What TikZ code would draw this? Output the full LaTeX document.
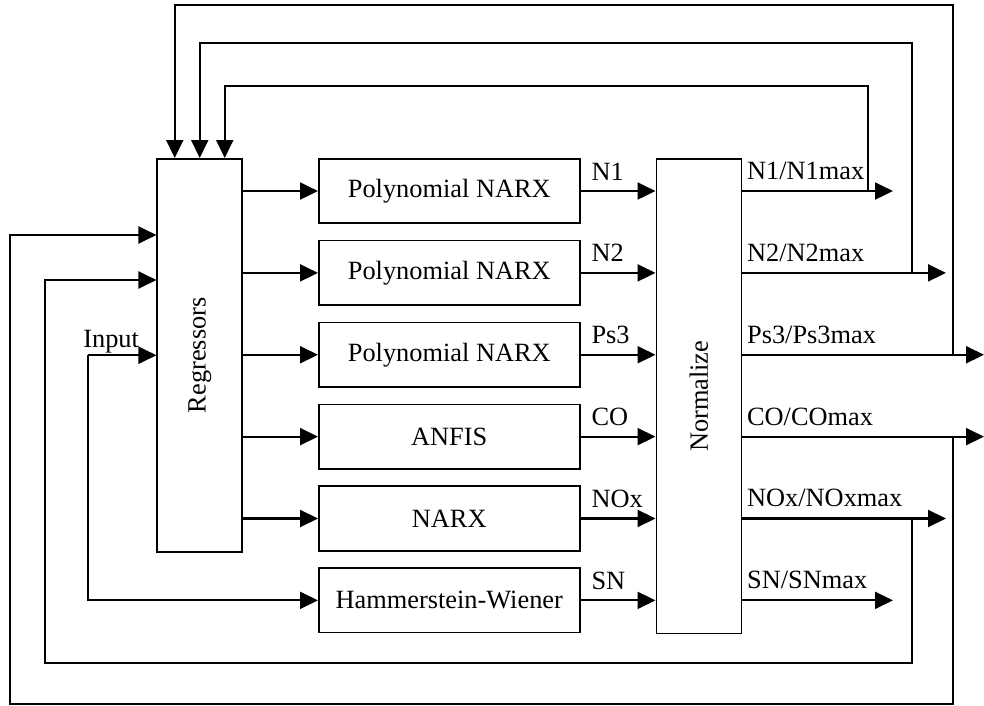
\documentclass[tikz,border=0pt]{standalone}
\usepackage{fontspec}
\setmainfont{Liberation Serif}
\usetikzlibrary{positioning,arrows.meta,calc}

\begin{document}
\begin{tikzpicture}[x=0.02cm, y=-0.02cm, >={Triangle[length=0.36cm, width=0.34cm]},
  every node/.style={font=\fontsize{15}{18}\selectfont, align=center},
  blk/.style={draw, line width=0.9pt, inner sep=0pt},
  sig/.style={->, line width=1.2pt},
  lbl/.style={anchor=base west, inner sep=0pt}]
  \def\bw{5.22cm}
  \def\bh{1.29cm}
  \def\gap{0.316cm}
  \useasboundingbox (0,0) rectangle (984,706);

  % model blocks
  \node[blk, minimum width=\bw, minimum height=\bh, anchor=north west] (m1) at (318,158) {Polynomial NARX};
  \node[blk, minimum width=\bw, minimum height=\bh, below=\gap of m1] (m2) {Polynomial NARX};
  \node[blk, minimum width=\bw, minimum height=\bh, below=\gap of m2] (m3) {Polynomial NARX};
  \node[blk, minimum width=\bw, minimum height=\bh, below=\gap of m3] (m4) {ANFIS};
  \node[blk, minimum width=\bw, minimum height=\bh, below=\gap of m4] (m5) {NARX};
  \node[blk, minimum width=\bw, minimum height=\bh, below=\gap of m5] (m6) {Hammerstein-Wiener};

  \node[blk, minimum width=1.7cm, minimum height=7.86cm,
    left=1.5cm of m1.north west, anchor=north east] (reg) {\rotatebox{90}{Regressors}};
  \node[blk, minimum width=1.7cm, minimum height=9.5cm,
    right=1.5cm of m1.north east, anchor=north west] (norm) {\rotatebox{90}{Normalize}};

  % helper coordinates for the feedback routes
  \coordinate (xa) at (868,0);
  \coordinate (xb) at (912,0);
  \coordinate (xc) at (953,0);
  \coordinate (xd) at (45,0);
  \coordinate (xe) at (10,0);
  \coordinate (xin) at (88,0);
  \coordinate (xs) at (893,0);
  \coordinate (xm) at (946,0);
  \coordinate (xl) at (984,0);
  \coordinate (ya) at (0,86);
  \coordinate (yb) at (0,43);
  \coordinate (yc) at (0,5);
  \coordinate (yd) at (0,663);
  \coordinate (ye) at (0,704);
  \coordinate (fa) at ($(reg.north)+(25,0)$);
  \coordinate (fc) at ($(reg.north)+(-25,0)$);
  \coordinate (ra) at ($(reg.north west)+(0,77)$);
  \coordinate (rb) at ($(reg.north west)+(0,122)$);

  \foreach \i in {1,...,5}
    \draw[sig] (reg.east |- m\i) -- (m\i.west);

  \foreach \i/\t in {1/N1, 2/N2, 3/Ps3, 4/CO, 5/NOx, 6/SN}
    \draw[sig] (m\i.east) -- (m\i -| norm.west)
      node[lbl, pos=0, xshift=0.2cm, yshift=0.22cm] (l\i) {\t};

  \foreach \i/\t/\e in {1/N1/xs, 2/N2/xm, 3/Ps3/xl, 4/CO/xl, 5/NOx/xm, 6/SN/xs}
    \draw[sig] (norm.east |- m\i) -- (m\i -| \e)
      node[lbl, pos=0, xshift=0.08cm, yshift=0.23cm] (o\i) {\t/\t{}max};

  % input
  \node[lbl] (inp) at ($(xin |- reg.west)+(-5,-8)$) {Input};
  \draw[sig] (xin |- reg.west) -- (reg.west);
  \draw[sig] (xin |- reg.west) |- (m6.west);

  % feedback
  \draw[sig] (m1 -| xa) |- (ya -| fa) -- (fa);
  \draw[sig] (m2 -| xb) |- (yb -| reg.north) -- (reg.north);
  \draw[sig] (m3 -| xc) |- (yc -| fc) -- (fc);
  \draw[sig] (m4 -| xc) |- (ye -| xe) |- (ra);
  \draw[sig] (m5 -| xb) |- (yd -| xd) |- (rb);
\end{tikzpicture}
\end{document}
